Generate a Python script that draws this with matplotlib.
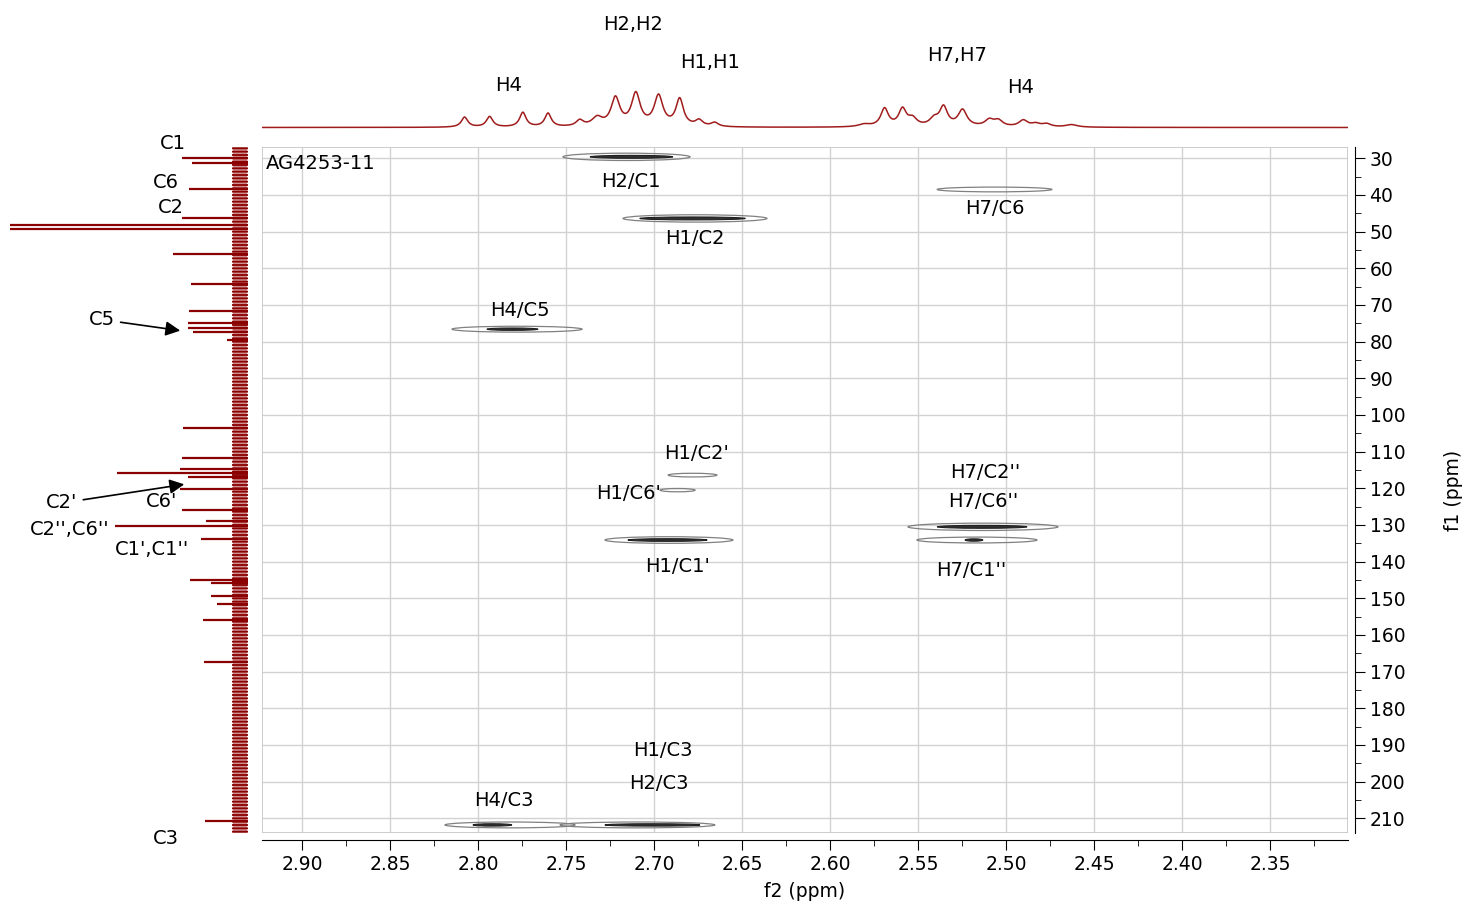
import matplotlib
matplotlib.use('Agg')
import matplotlib.pyplot as plt
from matplotlib.patches import Ellipse, Rectangle
from matplotlib.ticker import MultipleLocator, FormatStrFormatter
import numpy as np

# 1H projection (top): peak position (ppm), height, half width
h_ppm = [2.8076, 2.7934, 2.7745, 2.7602, 2.7422, 2.7323, 2.7219, 2.7103, 2.6974, 2.6854,
         2.6744, 2.6655, 2.5805, 2.5690, 2.5588, 2.5531, 2.5409, 2.5355, 2.5247, 2.5095,
         2.5044, 2.4902, 2.4831, 2.4770, 2.4628]
h_int = [10.0, 10.5, 14.5, 13.5, 6.0, 8.5, 28.0, 32.0, 30.0, 27.0,
         6.0, 4.0, 2.5, 18.0, 17.0, 7.5, 7.0, 19.0, 16.5, 6.5,
         6.0, 6.5, 3.0, 3.0, 2.5]
h_wid = [0.0022, 0.0022, 0.0022, 0.0022, 0.0025, 0.0035, 0.0030, 0.0030, 0.0030, 0.0026,
         0.0025, 0.0025, 0.004, 0.0026, 0.0026, 0.003, 0.003, 0.0027, 0.0030, 0.003,
         0.003, 0.003, 0.003, 0.003, 0.004]
h_labels = ['H2,H2', 'H1,H1', 'H4', 'H7,H7', 'H4']
h_lab_x = [2.7119, 2.6682, 2.7824, 2.5278, 2.4915]
h_lab_y = [103.4, 65.4, 42.4, 72.4, 40.4]

# 13C projection (left): peak position (ppm), height
c_ppm = [29.8, 31.2, 38.3, 46.2, 48.2, 49.3, 56.1, 64.3, 71.7, 74.8, 76.4, 77.5, 79.6,
         103.5, 111.6, 114.8, 115.7, 117.0, 120.2, 125.9, 128.8, 130.2, 133.9,
         145.0, 145.9, 149.3, 151.5, 155.9, 167.5, 210.8]
c_int = [58, 48, 51, 58, 230, 230, 67, 49, 51, 52, 52, 47, 13,
         57, 58, 60, 123, 52, 60, 58, 34, 125, 39,
         50, 29, 29, 23, 37, 36, 35]

# HMBC cross peaks: f2 centre, f1 centre, outer width, inner width, height
cp_f2 = [2.7156, 2.6767, 2.7778, 2.5065, 2.6781, 2.6866, 2.6915, 2.5131, 2.5165, 2.7818, 2.7094]
cp_f1 = [29.6, 46.4, 76.6, 38.5, 116.4, 120.5, 134.1, 130.5, 134.1, 211.8, 211.8]
cp_w_out = [0.0722, 0.0818, 0.0739, 0.0653, 0.0278, 0.0199, 0.0727, 0.0852, 0.0682, 0.0739, 0.088]
cp_w_in = [0.047, 0.060, 0.029, 0.0, 0.0, 0.0, 0.045, 0.051, 0.010, 0.022, 0.054]
cp_in_f2 = [2.7128, 2.6781, 2.7804, 0, 0, 0, 2.6923, 2.5136, 2.5182, 2.7918, 2.7009]
cp_h = [2.0, 2.0, 1.6, 1.3, 1.0, 0.9, 1.8, 2.0, 1.6, 1.6, 1.6]

cp_labels = ['H2/C1', 'H1/C2', 'H4/C5', 'H7/C6', "H1/C2'", "H1/C6'", "H1/C1'",
             "H7/C2''", "H7/C6''", "H7/C1''", 'H1/C3', 'H2/C3', 'H4/C3']
cp_lab_x = [2.7131, 2.6767, 2.7761, 2.5063, 2.6756, 2.7142, 2.6864,
            2.5119, 2.5131, 2.5199, 2.6949, 2.6972, 2.7852]
cp_lab_y = [36.2, 52.0, 71.4, 43.6, 110.4, 121.3, 141.2,
            115.8, 123.5, 142.3, 191.4, 200.6, 205.2]

c_labels = ['C1', 'C6', 'C2', "C6'", "C2'',C6''", "C1',C1''", 'C3']
c_lab_x = [67, 74, 69, 78, 170, 88, 74]
c_lab_y = [26.1, 36.5, 43.5, 123.7, 131.1, 136.8, 215.6]

xmin, xmax = 2.9227, 2.3057
ymin, ymax = 27.0, 214.0
W, H = 1469, 906
red = '#a01c1c'
dred = '#8b0000'
plt.rcParams['hatch.linewidth'] = 1.3

fig = plt.figure(figsize=(14.69, 9.06), dpi=100)

# main 2D plot
ax = fig.add_axes([262 / W, (H - 833) / H, 1086 / W, (833 - 147.3) / H])
ax.set_xlim(xmin, xmax)
ax.set_ylim(ymax, ymin)
for s in ['top', 'left']:
    ax.spines[s].set_visible(False)
ax.spines['bottom'].set_position(('outward', 5))
ax.spines['right'].set_position(('outward', 5))
ax.add_patch(Rectangle((0, 0), 1, 1, transform=ax.transAxes, fill=False,
                       edgecolor='#c4c4c4', lw=1.2, zorder=1))
ax.yaxis.tick_right()
ax.yaxis.set_label_position('right')
ax.xaxis.set_major_locator(MultipleLocator(0.05))
ax.xaxis.set_minor_locator(MultipleLocator(0.025))
ax.xaxis.set_major_formatter(FormatStrFormatter('%.2f'))
ax.yaxis.set_major_locator(MultipleLocator(10))
ax.yaxis.set_minor_locator(MultipleLocator(5))
ax.tick_params(which='major', length=7, labelsize=13.5, color='black')
ax.tick_params(which='minor', length=4)
ax.grid(True, which='major', color='#d2d2d2', lw=1)
ax.set_axisbelow(True)
ax.set_xlabel('f2 (ppm)', fontsize=13.5, labelpad=6)
ax.set_ylabel('f1 (ppm)', fontsize=13.5, labelpad=28)

for i in range(len(cp_f2)):
    ax.add_patch(Ellipse((cp_f2[i], cp_f1[i]), cp_w_out[i], cp_h[i], fill=False,
                         edgecolor='#808080', lw=0.9, zorder=3))
    if cp_w_in[i] > 0:
        ax.add_patch(Ellipse((cp_in_f2[i], cp_f1[i]), cp_w_in[i], cp_h[i] * 0.4,
                             facecolor='#303030', edgecolor='#202020', lw=0.8, zorder=4))

for i in range(len(cp_labels)):
    ax.text(cp_lab_x[i], cp_lab_y[i], cp_labels[i], fontsize=14, ha='center', va='center')
ax.text(2.9205, 31.3, 'AG4253-11', fontsize=14, ha='left', va='center')

# top 1H spectrum
axt = fig.add_axes([262 / W, (H - 140) / H, 1086 / W, 140 / H])
x = np.linspace(xmin, xmax, 4000)
y = np.zeros_like(x)
for p, a, g in zip(h_ppm, h_int, h_wid):
    y += a / (1 + ((x - p) / g) ** 2)
axt.plot(x, y, color=red, lw=1.1)
axt.set_xlim(xmin, xmax)
axt.set_ylim(127.5 - 140, 127.5)
axt.axis('off')
for t, tx, ty in zip(h_labels, h_lab_x, h_lab_y):
    axt.text(tx, ty, t, fontsize=14, ha='center', va='center')

# left 13C spectrum
axl = fig.add_axes([0, (H - 833) / H, 262 / W, (833 - 147.3) / H])
axl.set_xlim(240, -22)
axl.set_ylim(ymax, ymin)
axl.axis('off')
axl.fill_betweenx([ymin, ymax], -7, 7, color='#d09090', lw=0)
axl.fill_betweenx([ymin, ymax], -8, 8, facecolor='none', edgecolor=dred, hatch='-----', lw=0)
axl.hlines(c_ppm, -8, c_int, color=dred, lw=1.6)
for t, tx, ty in zip(c_labels, c_lab_x, c_lab_y):
    axl.text(tx, ty, t, fontsize=14, ha='center', va='center', clip_on=False)
axl.annotate('C5', xy=(57, 77.1), xytext=(138, 74.0), fontsize=14, ha='center', va='center',
             arrowprops=dict(arrowstyle='-|>', color='black', lw=1.2, mutation_scale=22))
axl.annotate("C2'", xy=(53, 118.8), xytext=(178, 124.0), fontsize=14, ha='center', va='center',
             arrowprops=dict(arrowstyle='-|>', color='black', lw=1.2, mutation_scale=22))

fig.savefig('out.png', dpi=100)
